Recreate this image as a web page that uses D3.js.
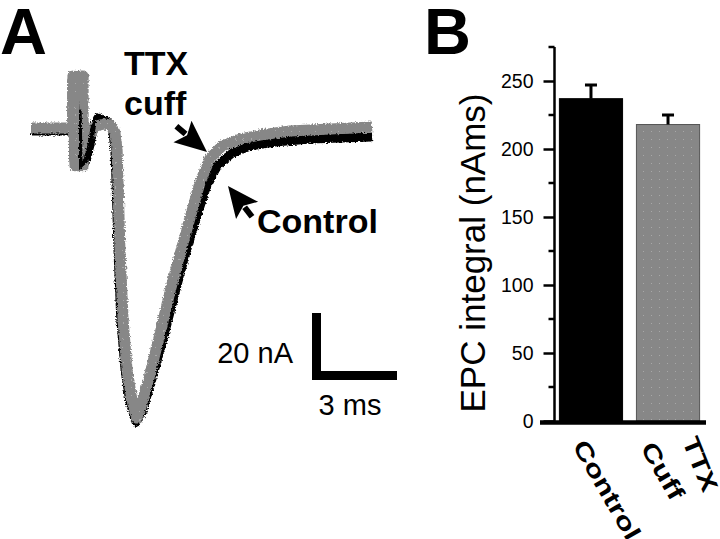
<!DOCTYPE html>
<html>
<head>
<meta charset="utf-8">
<script src="https://cdn.jsdelivr.net/npm/d3@7"></script>
<style>
  body { margin: 0; background: #fff; }
  text { font-family: "Liberation Sans", Arial, sans-serif; }
</style>
</head>
<body>
<script>
var w = 720;
var h = 539;

// panel A traces: time (ms) and current (nA)
var ctrlT = [0, 1.31, 1.45, 1.45, 1.52, 1.59, 1.66, 1.7, 1.73, 1.94, 2.08, 2.19, 2.36, 2.58, 2.79, 2.89, 2.96, 3.0, 3.07, 3.17, 3.32, 3.49, 3.71, 3.92, 4.31, 4.7, 5.08, 5.44, 5.83, 6.21, 6.6, 7.1, 7.73, 8.61, 9.85, 12.04];
var ctrlI = [-0.9, -0.9, -0.9, 14.3, -9.6, 14.3, -9.6, 5.4, -11.3, -9.6, -5.1, 0, 3, 2.4, 1.2, -1.2, -6.6, -15.5, -36.4, -57.3, -72.2, -81.8, -87.8, -84.8, -73.7, -61.8, -49.2, -37.9, -26.9, -17, -11, -7.5, -5.4, -4.2, -3.3, -2.7];
var ttxT = [0, 0.67, 1.31, 1.48, 1.48, 1.55, 1.62, 1.69, 1.76, 1.84, 1.84, 1.84, 2.08, 2.29, 2.58, 2.79, 2.96, 3.04, 3.07, 3.14, 3.25, 3.39, 3.57, 3.74, 3.88, 4.2, 4.55, 4.9, 5.26, 5.61, 5.96, 6.32, 6.74, 7.38, 8.08, 9.14, 10.56, 12.04];
var ttxI = [0, 0, 0, 0, 15.5, -11.3, 15.5, -11.3, 15.5, -11.3, 15.5, -3.6, -1.8, 0.6, 1.2, 0.9, -1.2, -6.6, -15.5, -36.4, -57.3, -72.2, -81.5, -86.6, -83.3, -73.4, -61.5, -49.0, -37.6, -26.9, -16.4, -9.0, -5.4, -3.3, -2.1, -0.9, -0.3, 0.3];

// panel B bars
var groups = ["Control", "TTX Cuff"];
var labelLines = [["Control"], ["TTX", "Cuff"]];
var means = [237, 218];
var sems = [10, 7];
var yTicks = [0, 50, 100, 150, 200, 250];
var yMinor = [25, 75, 125, 175, 225, 275];

var svg = d3.select("body").append("svg")
  .attr("width", w)
  .attr("height", h);

var defs = svg.append("defs");
var pat = defs.append("pattern")
  .attr("id", "dots")
  .attr("patternUnits", "userSpaceOnUse")
  .attr("width", 8).attr("height", 8);
pat.append("rect").attr("width", 8).attr("height", 8).attr("fill", "#878787");
pat.append("rect").attr("x", 3).attr("y", 3).attr("width", 1).attr("height", 1).attr("fill", "#a8a8a8");

var rough = defs.append("filter").attr("id", "rough")
  .attr("x", "-5%").attr("y", "-5%").attr("width", "110%").attr("height", "110%");
rough.append("feTurbulence").attr("type", "fractalNoise")
  .attr("baseFrequency", 0.6).attr("numOctaves", 2).attr("seed", 3).attr("result", "n");
rough.append("feDisplacementMap").attr("in", "SourceGraphic").attr("in2", "n")
  .attr("scale", 4).attr("xChannelSelector", "R").attr("yChannelSelector", "G");

defs.append("clipPath").attr("id", "artClip")
  .append("rect").attr("x", 79).attr("y", 100).attr("width", 17).attr("height", 75);

// ---------- panel A ----------
var tScale = d3.scaleLinear().domain([0, 12]).range([31, 371]);
var iScale = d3.scaleLinear().domain([0, -90]).range([128, 429.5]);

var line = d3.line()
  .x(function (d) { return tScale(d[0]); })
  .y(function (d) { return iScale(d[1]); });

var ctrlData = d3.zip(ctrlT, ctrlI);
var ttxData = d3.zip(ttxT, ttxI);

var traces = svg.append("g").attr("filter", "url(#rough)");
traces.append("path")
  .attr("d", line(ctrlData))
  .attr("fill", "none")
  .attr("stroke", "#000")
  .attr("stroke-width", 9)
  .attr("stroke-linejoin", "round");
traces.append("path")
  .attr("d", line(ttxData))
  .attr("fill", "none")
  .attr("stroke", "url(#dots)")
  .attr("stroke-width", 11)
  .attr("stroke-linejoin", "round");
// control artifact shows on top of the grey one
traces.append("path")
  .attr("d", line(ctrlData))
  .attr("clip-path", "url(#artClip)")
  .attr("fill", "none")
  .attr("stroke", "#000")
  .attr("stroke-width", 5);

// scale bar
var barX = 312, barY = 380;
var sbW = tScale(3) - tScale(0);
var sbH = iScale(-20) - iScale(0);
svg.append("path")
  .attr("d", "M" + (barX + 4.5) + "," + (barY - sbH) + "V" + (barY - 4.5) + "H" + (barX + sbW))
  .attr("fill", "none")
  .attr("stroke", "#000")
  .attr("stroke-width", 9);
svg.append("text").attr("x", 293).attr("y", 363)
  .attr("text-anchor", "end").attr("font-size", 29).text("20 nA");
svg.append("text").attr("x", 350).attr("y", 415)
  .attr("text-anchor", "middle").attr("font-size", 29).text("3 ms");

// annotations
function arrow(tx, ty, ang, len, wid, shaft) {
  var a = ang * Math.PI / 180;
  var ux = Math.cos(a), uy = Math.sin(a);
  var bx = tx - ux * len, by = ty - uy * len;
  var g = svg.append("g");
  g.append("line")
    .attr("x1", bx + ux * 4).attr("y1", by + uy * 4)
    .attr("x2", bx - ux * shaft).attr("y2", by - uy * shaft)
    .attr("stroke", "#000").attr("stroke-width", 6);
  g.append("path")
    .attr("d", "M" + tx + "," + ty +
      "L" + (bx - uy * wid / 2) + "," + (by + ux * wid / 2) +
      "L" + (bx + ux * 6) + "," + (by + uy * 6) +
      "L" + (bx + uy * wid / 2) + "," + (by - ux * wid / 2) + "Z")
    .attr("fill", "#000");
}
arrow(207, 152, 40, 32, 28, 8);
arrow(228, 186, -128, 31, 28, 8);

svg.append("text").attr("x", 124).attr("y", 75)
  .attr("font-size", 34).attr("font-weight", "bold").text("TTX");
svg.append("text").attr("x", 124).attr("y", 115)
  .attr("font-size", 34).attr("font-weight", "bold").text("cuff");
svg.append("text").attr("x", 257).attr("y", 233)
  .attr("font-size", 34).attr("font-weight", "bold").text("Control");

svg.append("text").attr("x", 0).attr("y", 54)
  .attr("font-size", 65).attr("font-weight", "bold").text("A");
svg.append("text").attr("x", 424).attr("y", 54)
  .attr("font-size", 65).attr("font-weight", "bold").text("B");

// ---------- panel B ----------
var xScale = d3.scaleBand()
  .domain(groups)
  .range([553, 706])
  .paddingInner(0.18)
  .paddingOuter(0.083);
var yScale = d3.scaleLinear().domain([0, 275]).range([421, 47]);

var b = svg.append("g");
b.selectAll("rect.bar")
  .data(groups)
  .join("rect")
  .attr("class", "bar")
  .attr("x", function (d) { return xScale(d); })
  .attr("y", function (d, i) { return yScale(means[i]); })
  .attr("width", xScale.bandwidth())
  .attr("height", function (d, i) { return yScale(0) - yScale(means[i]); })
  .attr("fill", function (d, i) { return i == 0 ? "#000" : "url(#dots)"; })
  .attr("stroke", function (d, i) { return i == 0 ? "#000" : "#555"; })
  .attr("stroke-width", 1);

// error bars
b.selectAll("path.err")
  .data(groups)
  .join("path")
  .attr("class", "err")
  .attr("d", function (d, i) {
    var cx = xScale(d) + xScale.bandwidth() / 2;
    var y0 = yScale(means[i]), y1 = yScale(means[i] + sems[i]);
    return "M" + cx + "," + y0 + "V" + y1 + "M" + (cx - 6) + "," + y1 + "H" + (cx + 6);
  })
  .attr("fill", "none")
  .attr("stroke", "#000")
  .attr("stroke-width", 3);

// y axis
var yAxis = d3.axisLeft(yScale)
  .tickValues(yTicks)
  .tickSize(11)
  .tickPadding(10)
  .tickFormat(d3.format("d"));
var ax = svg.append("g")
  .attr("transform", "translate(554.5,0)")
  .call(yAxis);
ax.select(".domain").remove();
ax.selectAll(".tick line").attr("stroke-width", 2.5);
ax.selectAll(".tick text")
  .attr("font-size", 19.5)
  .attr("font-family", "'Liberation Sans', Arial, sans-serif")
  .attr("fill", "#000");
ax.selectAll("line.minor")
  .data(yMinor)
  .join("line")
  .attr("class", "minor")
  .attr("x1", -6).attr("x2", 0)
  .attr("y1", function (d) { return yScale(d); })
  .attr("y2", function (d) { return yScale(d); })
  .attr("stroke", "#000")
  .attr("stroke-width", 2.5);
ax.append("line")
  .attr("x1", 0).attr("x2", 0)
  .attr("y1", yScale(275)).attr("y2", yScale(0))
  .attr("stroke", "#000")
  .attr("stroke-width", 2.5);

// thick baseline
svg.append("line")
  .attr("x1", 540).attr("x2", 706)
  .attr("y1", yScale(0) + 1.5).attr("y2", yScale(0) + 1.5)
  .attr("stroke", "#000")
  .attr("stroke-width", 4.5);

// y label
svg.append("text")
  .attr("transform", "translate(485,253) rotate(-90)")
  .attr("text-anchor", "middle")
  .attr("font-size", 35)
  .text("EPC integral (nAms)");

// category labels, rotated
var lblPos = [[[572, 446, 60, 1.3]], [[682, 441, 68, 1.25], [640, 448, 60, 1.3]]];
labelLines.forEach(function (lines, i) {
  lines.forEach(function (s, j) {
    var p = lblPos[i][j];
    svg.append("text")
      .attr("transform", "translate(" + p[0] + "," + p[1] + ") rotate(" + p[2] + ") scale(" + p[3] + ",1)")
      .attr("font-size", 24)
      .attr("font-weight", "bold")
      .text(s);
  });
});
</script>
</body>
</html>
